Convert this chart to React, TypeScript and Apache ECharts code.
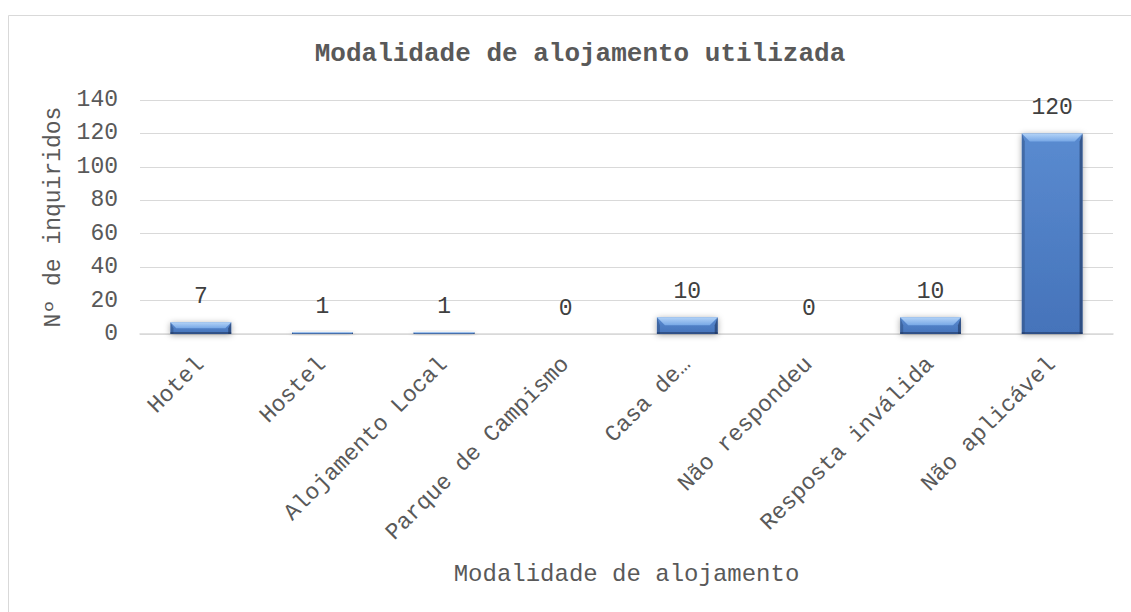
import React, { useEffect, useRef } from "react";
import * as echarts from "echarts";

const categories = [
  "Hotel",
  "Hostel",
  "Alojamento Local",
  "Parque de Campismo",
  "Casa de…",
  "Não respondeu",
  "Resposta inválida",
  "Não aplicável",
];
const values = [7, 1, 1, 0, 10, 0, 10, 120];
const yTicks = { min: 0, max: 140, interval: 20 };
const titleText = "Modalidade de alojamento utilizada";
const xName = "Modalidade de alojamento";
const yName = "Nº de inquiridos";

const FONT = "'Liberation Mono', 'DejaVu Sans Mono', monospace";

export default function App() {
  const ref = useRef<HTMLDivElement>(null);
  useEffect(() => {
    if (!ref.current) return;
    const chart = echarts.init(ref.current, undefined, { renderer: "svg" });
    const renderItem = (params: any, api: any) => {
      const idx = api.value(0);
      const v = api.value(1);
      const top = api.coord([idx, v]);
      const base = api.coord([idx, 0]);
      const w = api.size([1, 0])[0] * 0.5;
      const x0 = top[0] - w / 2;
      const x1 = top[0] + w / 2;
      const y0 = top[1];
      const y1 = base[1];
      const h = y1 - y0;
      const children: any[] = [];
      if (h > 0.01) {
        const b = Math.min(8, h / 2);
        const s = Math.min(3, h / 2);
        children.push({
          type: "rect",
          shape: { x: x0, y: y0, width: w, height: h },
          style: {
            fill: new echarts.graphic.LinearGradient(0, 0, 0, 1, [
              { offset: 0, color: "#5A8BD0" },
              { offset: 1, color: "#4573BA" },
            ]),
            shadowBlur: 6,
            shadowOffsetY: 1,
            shadowColor: "rgba(0,0,0,0.35)",
          },
        });
        children.push({
          type: "polygon",
          shape: { points: [[x0, y0], [x0 + s, y0 + b], [x0 + s, y1], [x0, y1]] },
          style: { fill: "rgba(40,70,120,0.45)" },
        });
        children.push({
          type: "polygon",
          shape: { points: [[x1, y0], [x1 - s, y0 + b], [x1 - s, y1], [x1, y1]] },
          style: { fill: "rgba(25,45,85,0.55)" },
        });
        children.push({
          type: "rect",
          shape: { x: x0, y: y1 - Math.min(2, h / 2), width: w, height: Math.min(2, h / 2) },
          style: { fill: "rgba(25,45,85,0.5)" },
        });
        children.push({
          type: "polygon",
          shape: { points: [[x0, y0], [x1, y0], [x1 - b, y0 + b], [x0 + b, y0 + b]] },
          style: {
            fill: new echarts.graphic.LinearGradient(0, 0, 0, 1, [
              { offset: 0, color: "#B3D3F7" },
              { offset: 1, color: "#78A8E6" },
            ]),
          },
        });
      }
      children.push({
        type: "text",
        x: top[0],
        y: y0 - 25,
        style: {
          text: String(v),
          fill: "#404040",
          font: `23px ${FONT}`,
          align: "center",
          verticalAlign: "middle",
        },
      });
      return { type: "group", children };
    };

    chart.setOption({
      animation: false,
      backgroundColor: "#ffffff",
      title: {
        text: titleText,
        left: 575,
        top: 36,
        textAlign: "center",
        textStyle: { fontFamily: FONT, fontSize: 26, fontWeight: "bold", color: "#595959" },
      },
      graphic: [
        {
          type: "rect",
          shape: { x: 8.5, y: 15.5, width: 1140, height: 700 },
          style: { fill: "none", stroke: "#d9d9d9", lineWidth: 1 },
          silent: true,
          z: -10,
        },
      ],
      grid: { left: 140, right: 18, top: 100, bottom: 278, containLabel: false },
      xAxis: {
        type: "category",
        data: categories,
        name: xName,
        nameLocation: "middle",
        nameGap: 228,
        nameTextStyle: { fontFamily: FONT, fontSize: 24, color: "#595959" },
        axisTick: { show: false },
        axisLine: { lineStyle: { color: "#d9d9d9", width: 1.5 } },
        axisLabel: {
          interval: 0,
          rotate: 45,
          margin: 27,
          fontFamily: FONT,
          fontSize: 23,
          color: "#595959",
        },
      },
      yAxis: {
        type: "value",
        min: yTicks.min,
        max: yTicks.max,
        interval: yTicks.interval,
        name: yName,
        nameLocation: "middle",
        nameRotate: 90,
        nameGap: 68,
        nameTextStyle: { fontFamily: FONT, fontSize: 23, color: "#595959" },
        axisLine: { show: false },
        axisTick: { show: false },
        axisLabel: { margin: 22, fontFamily: FONT, fontSize: 23, color: "#595959" },
        splitLine: { lineStyle: { color: "#d9d9d9", width: 1 } },
      },
      series: [
        {
          type: "custom",
          renderItem,
          data: values.map((v, i) => [i, v]),
          encode: { x: 0, y: 1 },
          clip: false,
        },
      ],
    });
    return () => chart.dispose();
  }, []);
  return (
    <div
      ref={ref}
      style={{ position: "fixed", left: 0, top: 0, width: 1131, height: 612, background: "#fff" }}
    />
  );
}
